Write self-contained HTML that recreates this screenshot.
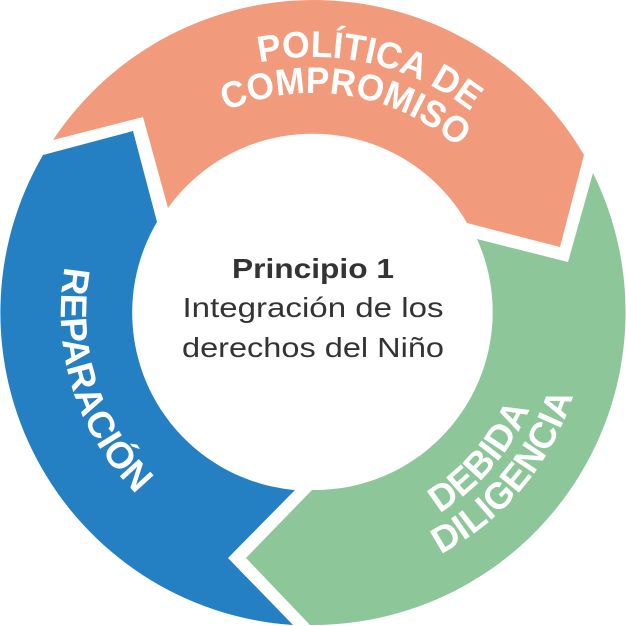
<!DOCTYPE html>
<html><head><meta charset="utf-8"><style>
html,body{margin:0;padding:0;background:#fff;width:626px;height:626px;overflow:hidden}
svg{display:block}
.t{font-family:"Liberation Sans",sans-serif;font-weight:bold;font-size:37px;fill:#fff}
.c{font-family:"Liberation Sans",sans-serif;font-size:28px;fill:#333;text-anchor:middle}
</style></head><body>
<svg width="626" height="626" viewBox="0 0 626 626" xmlns="http://www.w3.org/2000/svg">
<defs>
<path id="p1" d="M72.4,225.4 A256,256 0 0 1 565.1,268.6"/>
<path id="p2" d="M106.3,237.8 A220,220 0 0 1 529.7,274.8"/>
<path id="p3" d="M149.7,118.4 A256,256 0 0 0 226.1,551.7"/>
<path id="p4" d="M272.2,544.4 A233,233 0 0 0 533.8,232.6"/>
<path id="p5" d="M265.8,580.9 A271,271 0 0 0 568.6,220"/>
</defs>
<path fill="#F29B7C" d="M53,140 A313,313 0 0 1 584,155 L560,247 L467,223 A178,178 0 0 0 168,208 L143,117 Z"/>
<path fill="#8DC799" d="M593,173 A313,313 0 0 1 310,625 L246,558 L312,490 A178,178 0 0 0 477,239 L568,262 Z"/>
<path fill="#2580C3" d="M293,625 A313,313 0 0 1 43,155 L133,131 L157,222 A178,178 0 0 0 295,490 L228,558 Z"/>
<text class="t"><textPath href="#p1" startOffset="370.8" text-anchor="middle" textLength="224" lengthAdjust="spacingAndGlyphs">POLÍTICA DE</textPath></text>
<text class="t"><textPath href="#p2" startOffset="303.3" text-anchor="middle" textLength="248" lengthAdjust="spacingAndGlyphs">COMPROMISO</textPath></text>
<text class="t"><textPath href="#p3" startOffset="298" text-anchor="middle" textLength="248" lengthAdjust="spacingAndGlyphs">REPARACIÓN</textPath></text>
<text class="t"><textPath href="#p4" startOffset="244" text-anchor="middle" textLength="140" lengthAdjust="spacingAndGlyphs">DEBIDA</textPath></text>
<text class="t"><textPath href="#p5" startOffset="286" text-anchor="middle" textLength="212" lengthAdjust="spacingAndGlyphs">DILIGENCIA</textPath></text>
<text class="c" x="313" y="278" font-weight="bold" textLength="162" lengthAdjust="spacingAndGlyphs">Principio 1</text>
<text class="c" x="313" y="317" textLength="261" lengthAdjust="spacingAndGlyphs">Integración de los</text>
<text class="c" x="313" y="357" textLength="262" lengthAdjust="spacingAndGlyphs">derechos del Niño</text>
</svg>
</body></html>
